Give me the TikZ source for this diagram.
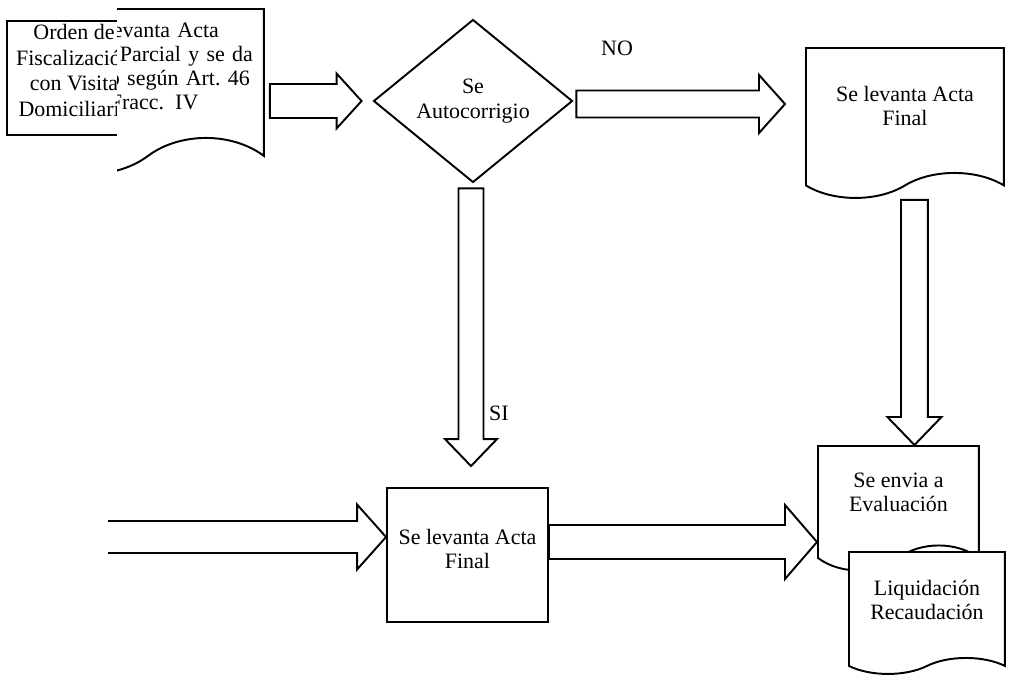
\documentclass[tikz,border=0pt]{standalone}
\usepackage{fontspec}
\setmainfont{Liberation Serif}
\usetikzlibrary{positioning, calc, shapes.geometric, shapes.symbols}
\tikzset{every node/.style={font=\fontsize{12.5}{13.8}\selectfont}}

% hollow block arrow: [closing], start, tip, shaft half width, head half width, head length
\newcommand{\fatarrow}[6][--cycle]{%
  \coordinate (fa-h) at ($(#3)!#6!(#2)$);
  \draw[fatline] ($(#2)!#4!90:(#3)$) -- ($(fa-h)!#4!90:(#3)$) -- ($(fa-h)!#5!90:(#3)$) -- (#3)
    -- ($(fa-h)!#5!-90:(#3)$) -- ($(fa-h)!#4!-90:(#3)$) -- ($(#2)!#4!-90:(#3)$) #1;
}
\newcommand{\linea}[2]{\makebox[0pt][l]{\smash{\hspace*{#1}#2}}}

\begin{document}
\begin{tikzpicture}[
    x=0.02cm, y=-0.02cm,
    caja/.style={
        draw,
        line width=1.1pt,
        align=center,
        inner sep=2pt
    },
    docu/.style={
        tape,
        draw,
        fill=white,
        line width=1.1pt,
        align=center,
        tape bend top=none,
        tape bend bottom=in and out,
        inner sep=2pt
    },
    decision/.style={
        diamond,
        draw,
        line width=1.1pt,
        align=center,
        inner sep=0pt
    },
    fatline/.style={
        line width=1.1pt,
        line join=miter,
        fill=white
    },
    etiqueta/.style={inner sep=0pt}
]
\useasboundingbox (0,0) rectangle (1010,683);

% pasted pieces, top left
\node[caja, minimum width=2.68cm, minimum height=2.2cm, text depth=0.3cm,
      font=\fontsize{12.5}{14.6}\selectfont] (orden) at (74,78)
{Orden de\\Fiscalización\\con Visita\\Domiciliaria};

\begin{scope}
  \clip (117,0) rectangle (280,200);
  \node[docu, anchor=north west, minimum width=4.64cm, minimum height=3.3cm,
        tape bend height=0.72cm, text width=1.32cm, align=left] (parcial) at (31,8)
  {\linea{-0.75cm}{Se levanta Acta}\\\linea{0.1cm}{Parcial y se da}\\
   \linea{-0.12cm}{o según Art.~46}\\\linea{-0.1cm}{Fracc. IV}};
\end{scope}

\node[decision, minimum width=3.98cm, minimum height=3.26cm] (decide) at (473,101)
{Se\\Autocorrigio};

\node[docu, anchor=north west, minimum width=3.96cm, minimum height=3cm,
      tape bend height=0.5cm, text depth=0.18cm] (fin1) at (805,47)
{Se levanta Acta\\Final};

\node[caja, minimum width=3.22cm, minimum height=2.68cm, text depth=0.25cm] (final) at (467.5,555)
{Se levanta Acta\\Final};

\node[docu, anchor=north west, minimum width=3.22cm, minimum height=2.49cm,
      tape bend height=0.5cm, text depth=0.15cm] (envia) at (817,445)
{Se envia a\\Evaluación};

\node[docu, anchor=north west, minimum width=3.12cm, minimum height=2.44cm,
      tape bend height=0.32cm, text depth=0.2cm] (liq) at (848,551)
{Liquidación\\Recaudación};

% block arrows
\coordinate (a1s) at ($(parcial.east |- decide.west)+(5,0)$);
\coordinate (a1e) at ($(decide.west)+(-11,0)$);
\fatarrow{a1s}{a1e}{0.34cm}{0.55cm}{0.5cm}

\coordinate (a2s) at ($(decide.east)+(3,3)$);
\coordinate (a2e) at ($(fin1.west |- a2s)+(-20,0)$);
\fatarrow{a2s}{a2e}{0.27cm}{0.58cm}{0.52cm}

\coordinate (a3s) at ($(decide.south)+(-2,5)$);
\coordinate (a3e) at ($(a3s |- final.north)+(0,-21)$);
\fatarrow{a3s}{a3e}{0.25cm}{0.52cm}{0.54cm}

\coordinate (entrada) at (108,537);
\coordinate (a4e) at (final.west |- entrada);
\fatarrow[]{entrada}{a4e}{0.32cm}{0.65cm}{0.58cm}

\coordinate (a5s) at ($(final.east)+(0,-13)$);
\coordinate (a5e) at (envia.west |- a5s);
\fatarrow{a5s}{a5e}{0.34cm}{0.74cm}{0.64cm}

\coordinate (a6e) at ($(envia.north)+(16,0)$);
\coordinate (a6s) at ($(a6e |- fin1.south)+(0,26)$);
\fatarrow{a6s}{a6e}{0.27cm}{0.54cm}{0.56cm}

\node[etiqueta] (no) at (617,48) {NO};
\node[etiqueta] (si) at (499,413) {SI};

\end{tikzpicture}
\end{document}
